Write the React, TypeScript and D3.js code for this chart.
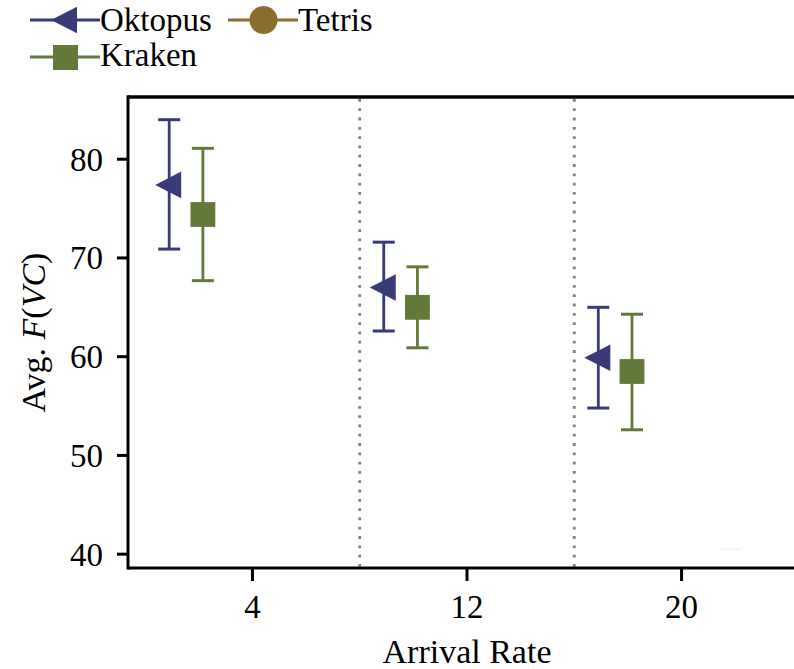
import React from "react";
import * as d3 from "d3";

const groups = ["4", "12", "20"];
const yTicks = [40, 50, 60, 70, 80];
const seriesNames = ["Oktopus", "Tetris", "Kraken"];
const seriesColors = ["#393b79", "#8c6d31", "#637939"];
const seriesOffsets = [-0.388, -0.077, -0.231];
// mean, lower, upper
const oktopusMean = [77.4, 67.0, 59.9];
const oktopusLow = [70.9, 62.6, 54.8];
const oktopusHigh = [84.0, 71.6, 65.0];
const krakenMean = [74.4, 65.0, 58.5];
const krakenLow = [67.7, 60.9, 52.6];
const krakenHigh = [81.1, 69.1, 64.3];
const tetrisFaintGroup = 2;
const tetrisFaintValue = 40.5;
const tetrisFaintOffset = 0.228;

const W = 794;
const H = 669;
const FONT = "Liberation Serif, Times New Roman, Times, DejaVu Serif, serif";
const ts = { fontFamily: FONT };

export default function App() {
  const x = d3.scaleLinear().domain([-0.58, 2.58]).range([128, 806]);
  const y = d3.scaleLinear().domain([38.6, 86.3]).range([568, 97]);
  const plotLeft = 128;
  const plotTop = 97;
  const plotBottom = 568;

  const tri = (cx: number, cy: number, s = 1) =>
    `M${cx - 14 * s},${cy} L${cx + 12 * s},${cy - 13.3 * s} L${cx + 12 * s},${cy + 13.3 * s} Z`;

  const capW = 11;
  const errBar = (cx: number, lo: number, hi: number, color: string, key: string) => (
    <g key={key} stroke={color} strokeWidth={2.8}>
      <line x1={cx} x2={cx} y1={y(lo)} y2={y(hi)} />
      <line x1={cx - capW} x2={cx + capW} y1={y(lo)} y2={y(lo)} strokeWidth={3} />
      <line x1={cx - capW} x2={cx + capW} y1={y(hi)} y2={y(hi)} strokeWidth={3} />
    </g>
  );

  return (
    <svg
      width={W}
      height={H}
      style={{ position: "absolute", left: 0, top: 0, background: "#fff", fontFamily: FONT }}
    >
      {/* dividers */}
      {[0.5, 1.5].map((d) => (
        <line
          key={d}
          x1={x(d)}
          x2={x(d)}
          y1={plotTop + 2}
          y2={plotBottom - 1}
          stroke="#808080"
          strokeWidth={2.8}
          strokeDasharray="2.8 6.5"
        />
      ))}

      {/* faint tetris remnant */}
      <line
        x1={x(tetrisFaintGroup + tetrisFaintOffset) - capW}
        x2={x(tetrisFaintGroup + tetrisFaintOffset) + capW}
        y1={y(tetrisFaintValue)}
        y2={y(tetrisFaintValue)}
        stroke={seriesColors[1]}
        strokeOpacity={0.12}
        strokeWidth={1.2}
      />

      {/* Oktopus */}
      {groups.map((g, i) => {
        const cx = x(i + seriesOffsets[0]);
        return (
          <g key={"o" + g}>
            {errBar(cx, oktopusLow[i], oktopusHigh[i], seriesColors[0], "oe" + g)}
            <path d={tri(cx, y(oktopusMean[i]))} fill={seriesColors[0]} />
          </g>
        );
      })}
      {/* Kraken */}
      {groups.map((g, i) => {
        const cx = x(i + seriesOffsets[2]);
        return (
          <g key={"k" + g}>
            {errBar(cx, krakenLow[i], krakenHigh[i], seriesColors[2], "ke" + g)}
            <rect
              x={cx - 12.4}
              y={y(krakenMean[i]) - 12.4}
              width={24.8}
              height={24.8}
              fill={seriesColors[2]}
            />
          </g>
        );
      })}

      {/* axes */}
      <line x1={plotLeft} x2={W} y1={plotTop} y2={plotTop} stroke="#000" strokeWidth={3.5} />
      <line x1={plotLeft} x2={W} y1={plotBottom} y2={plotBottom} stroke="#000" strokeWidth={3} />
      <line x1={plotLeft} x2={plotLeft} y1={plotTop - 1.7} y2={plotBottom + 1.5} stroke="#000" strokeWidth={3} />

      {yTicks.map((t) => (
        <g key={"yt" + t}>
          <line x1={plotLeft - 11} x2={plotLeft} y1={y(t)} y2={y(t)} stroke="#000" strokeWidth={3} />
          <text x={plotLeft - 25} y={y(t) + 11.5} textAnchor="end" fontSize={33} style={ts}>
            {t}
          </text>
        </g>
      ))}
      {groups.map((g, i) => (
        <g key={"xt" + g}>
          <line x1={x(i)} x2={x(i)} y1={plotBottom} y2={plotBottom + 13} stroke="#000" strokeWidth={3} />
          <text x={x(i)} y={618} textAnchor="middle" fontSize={33} style={ts}>
            {g}
          </text>
        </g>
      ))}

      <text x={x(1)} y={663} textAnchor="middle" fontSize={34} style={ts}>
        Arrival Rate
      </text>
      <text
        transform={`translate(45, ${(plotTop + plotBottom) / 2}) rotate(-90)`}
        textAnchor="middle"
        fontSize={34}
        style={ts}
      >
        Avg. <tspan fontStyle="italic">F</tspan>(<tspan fontStyle="italic">VC</tspan>)
      </text>

      {/* legend */}
      <g>
        <line x1={30} x2={100} y1={20} y2={20} stroke={seriesColors[0]} strokeWidth={2.8} />
        <path d={tri(65, 20, 1)} fill={seriesColors[0]} />
        <text x={100} y={31} fontSize={33} style={ts}>
          {seriesNames[0]}
        </text>

        <line x1={228} x2={298} y1={20} y2={20} stroke={seriesColors[1]} strokeWidth={2.8} />
        <circle cx={263.5} cy={20} r={14} fill={seriesColors[1]} />
        <text x={298} y={31} fontSize={33} style={ts}>
          {seriesNames[1]}
        </text>

        <line x1={30} x2={100} y1={57} y2={57} stroke={seriesColors[2]} strokeWidth={2.8} />
        <rect x={53} y={45} width={25} height={25} fill={seriesColors[2]} />
        <text x={100} y={66} fontSize={33} style={ts}>
          {seriesNames[2]}
        </text>
      </g>
    </svg>
  );
}
